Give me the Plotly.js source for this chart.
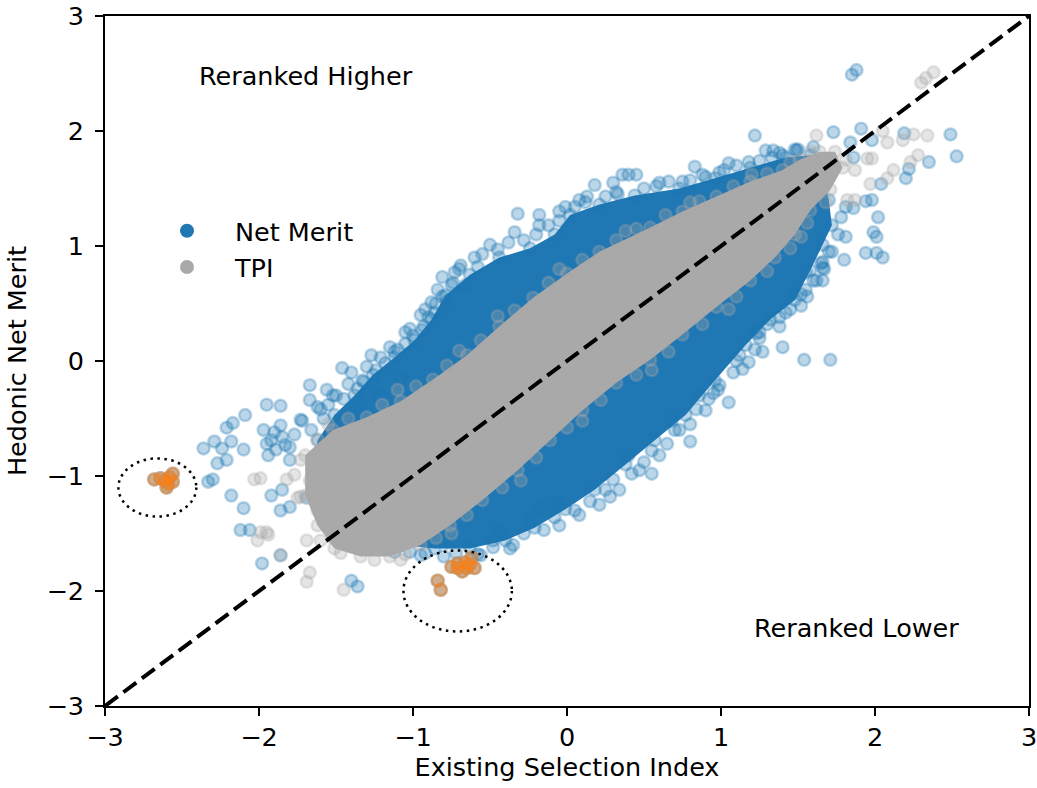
<!DOCTYPE html>
<html><head><meta charset="utf-8">
<script src="https://cdn.plot.ly/plotly-3.0.1.min.js"></script>
<style>html,body{margin:0;padding:0;background:#fff}#chart{width:1037px;height:788px}</style>
</head><body><div id="chart"></div>
<script>
// ---- data ----
// outline of the dense Net Merit cloud
const blueCoreX = [-1.57,-1.64,-1.62,-1.51,-1.38,-1.26,-1.12,-0.99,-0.88,-0.79,-0.63,-0.44,-0.24,-0.08,0.02,0.21,0.44,0.73,0.96,1.19,1.42,1.58,1.66,1.70,1.72,1.66,1.58,1.48,1.32,1.16,0.96,0.77,0.57,0.38,0.18,-0.01,-0.21,-0.40,-0.63,-0.86,-1.08,-1.28,-1.44];
const blueCoreY = [-1.17,-0.90,-0.69,-0.47,-0.30,-0.12,0.03,0.18,0.36,0.57,0.75,0.90,0.98,1.10,1.27,1.36,1.44,1.50,1.59,1.68,1.77,1.79,1.66,1.40,1.18,1.01,0.79,0.53,0.36,0.14,-0.17,-0.47,-0.69,-0.90,-1.12,-1.29,-1.45,-1.56,-1.63,-1.63,-1.60,-1.51,-1.38];
// individual Net Merit points around the dense cloud
const blueX = [1.22,1.73,1.91,1.98,2.19,2.49,2.53,2.35,2.22,2.20,2.04,1.94,1.98,2.02,1.99,2.01,1.94,2.01,2.05,1.80,1.66,1.56,1.47,0.99,1.29,1.18,1.48,1.38,1.86,1.84,1.81,1.86,1.81,1.67,1.85,1.88,
 -0.01,0.36,0.45,0.30,0.32,0.13,0.83,0.75,1.34,1.40,1.49,1.66,1.55,1.38,1.23,1.40,1.27,1.18,1.14,1.54,1.71,
 -0.81,-0.73,-0.75,-0.88,-0.86,-0.81,-0.94,-1.27,-1.46,-1.67,-1.56,-1.67,-1.62,-1.33,-1.21,-1.10,-0.11,-0.06,-0.18,-0.44,-0.48,-0.78,-0.24,
 -1.95,-1.86,-2.09,-2.17,-2.21,-2.29,-2.36,-2.24,-2.10,-2.18,-2.27,-2.21,-2.30,-2.33,-2.18,-2.10,-2.12,-2.06,-1.98,-1.92,-1.85,-1.86,-1.80,-1.69,-1.62,
 -1.97,-1.92,-1.89,-1.94,-1.83,-1.77,-1.80,-1.73,-1.86,-1.90,-1.85,-1.80,-1.95,-1.86,-1.40,-1.36,
 -0.69,-0.50,-0.34,-0.18,-0.05,0.08,0.18,0.40,-0.18,-0.32,0.60,0.90,1.05,-0.60,-0.95,-1.05,-1.40,-1.52,
 0.86,0.99,0.90,0.73,0.60,0.47,0.34,0.21,0.08,-0.05,-0.37,-0.56,-0.95,-1.12,-1.28,1.10,1.25,1.45,1.60,1.70,
 -1.66,-1.58,-1.55,-1.45,-1.42,-1.32,-1.30,-1.18,-1.15,-1.05,-1.02,-0.93,-0.92,-0.85,-0.84,-0.74,-0.70,-0.58,-0.55,-0.45,-0.38,-0.28,-0.20,-0.12,-0.05,0.05,0.12,0.25,0.33,0.50,0.58,0.66,0.80,0.88,1.02,1.10,1.25,1.33,1.50,1.60,
 1.78,1.76,1.72,1.65,1.62,1.55,1.52,1.42,1.38,1.25,1.22,1.12,1.08,0.98,0.92,0.84,0.80,0.70,0.65,0.55,0.50,0.42,0.30,0.25,0.15,0.05,-0.08,-0.15,-0.28,-0.35,-0.48,-0.58,-0.72,-0.80,-0.92,-1.02,-1.18,-1.32,-1.40,-1.50,
 -1.72,-1.60,-1.50,-1.36,-1.24,-1.12,-1.00,-0.90,-0.78,-0.66,-1.48,-1.35,-1.22,-1.08,
 1.05,0.95,0.80,0.68,0.55,0.40,0.28,1.30,1.52,1.66];
const blueY = [1.96,1.99,2.02,1.92,1.98,1.97,1.78,1.73,1.67,1.59,1.54,1.39,1.40,1.25,1.12,1.08,0.94,0.94,0.90,0.88,0.70,0.56,0.59,1.64,1.83,1.73,1.84,1.81,1.77,1.90,1.34,1.33,1.08,0.80,2.49,2.53,
 1.34,1.62,1.62,1.55,1.47,1.43,1.69,1.56,1.83,1.79,1.83,0.81,0.77,0.38,0.24,0.12,0.08,-0.01,-0.07,0.01,0.01,
 0.73,0.77,0.66,0.51,0.42,0.56,0.27,0.05,-0.06,-0.21,-0.25,-0.34,-0.40,-0.17,0.03,0.10,-1.23,-1.23,-1.28,-1.47,-1.56,-1.58,-1.38,
 -0.38,-0.39,-0.47,-0.54,-0.58,-0.70,-0.76,-0.76,-0.77,-0.70,-0.89,-0.86,-1.03,-1.05,-1.17,-1.28,-1.47,-1.47,-1.76,-1.17,-1.12,-1.30,-1.27,-1.19,-1.10,
 -0.60,-0.69,-0.77,-0.82,-0.73,-0.64,-0.86,-0.51,-0.56,-0.62,-0.66,-0.75,-0.72,-1.69,-1.91,-1.96,
 0.83,1.01,1.12,1.18,1.30,1.40,1.53,1.62,1.27,1.28,1.55,1.60,1.72,0.90,0.40,0.25,-0.10,-0.30,
 -0.30,-0.21,-0.43,-0.60,-0.82,-0.95,-1.12,-1.25,-1.34,-1.43,-1.63,-1.69,-1.69,-1.66,-1.60,0.00,0.20,0.45,0.70,0.95,
 -0.60,-0.50,-0.38,-0.33,-0.20,-0.18,-0.05,-0.02,0.12,0.15,0.28,0.30,0.45,0.50,0.62,0.68,0.80,0.82,0.93,0.97,1.03,1.05,1.10,1.18,1.22,1.34,1.38,1.43,1.45,1.50,1.52,1.56,1.57,1.62,1.66,1.70,1.74,1.77,1.84,1.86,
 1.25,1.10,0.95,0.85,0.70,0.62,0.48,0.42,0.30,0.25,0.10,0.05,-0.10,-0.25,-0.33,-0.42,-0.55,-0.60,-0.72,-0.78,-0.88,-0.98,-1.03,-1.12,-1.22,-1.30,-1.36,-1.47,-1.50,-1.60,-1.62,-1.68,-1.67,-1.70,-1.67,-1.66,-1.62,-1.58,-1.48,-1.40,
 -0.52,-0.42,-0.30,-0.24,-0.08,0.08,0.22,0.38,0.52,0.66,-0.62,-0.45,-0.30,-0.15,
 -0.36,-0.28,-0.70,-0.52,-0.98,-0.82,-1.18,0.32,0.58,0.86];
// outline of the dense TPI cloud
const grayCoreX = [-1.70,-1.52,-1.30,-1.08,-0.87,-0.65,-0.44,-0.22,0.00,0.21,0.54,0.75,0.97,1.19,1.40,1.51,1.64,1.74,1.79,1.71,1.58,1.48,1.35,1.19,0.97,0.75,0.54,0.32,0.10,-0.11,-0.32,-0.55,-0.76,-0.95,-1.15,-1.34,-1.51,-1.62,-1.70];
const grayCoreY = [-0.82,-0.60,-0.49,-0.35,-0.16,0.05,0.30,0.55,0.76,0.95,1.16,1.30,1.43,1.56,1.66,1.75,1.82,1.82,1.68,1.49,1.31,1.10,0.90,0.70,0.47,0.23,0.01,-0.19,-0.43,-0.69,-0.95,-1.21,-1.43,-1.60,-1.70,-1.70,-1.63,-1.43,-1.17];
// individual TPI points around the dense cloud
const grayX = [1.62,2.05,2.08,2.18,2.25,2.34,2.28,2.23,2.12,2.08,1.97,1.95,1.98,1.87,1.82,1.87,1.66,1.69,2.30,2.38,2.33,
 1.45,1.55,1.64,1.71,1.81,
 -2.03,-1.99,-1.82,-1.75,-1.73,-1.99,-1.95,-1.94,-2.01,-1.69,-1.67,-1.69,-1.45,-1.52,-1.43,-1.62,-1.86,
 -1.60,-1.47,-1.25,-1.08,-1.41,-1.54,-1.67,-1.73,-1.77,-1.60,-1.49,
 -1.62,-1.42,-1.20,-0.98,-0.78,-0.56,-0.34,-0.12,0.10,0.32,0.45,0.64,0.86,1.08,1.30,1.45,1.58,
 -1.55,-1.10,-0.70,-0.45,-0.05,0.38,0.80,1.20,
 1.68,1.56,1.45,1.30,1.10,0.88,0.66,0.45,0.22,0.00,-0.20,-0.42,-0.65,-0.85,-1.05,1.52,1.05,0.55,0.10,-0.30,-0.75];
const grayY = [1.96,2.00,1.90,1.92,1.97,1.96,1.79,1.73,1.66,1.59,1.54,1.76,1.76,1.66,1.40,1.40,1.49,1.57,2.42,2.51,2.46,
 1.44,1.53,1.62,1.70,1.75,
 -1.03,-1.02,-1.03,-1.19,-1.18,-1.49,-1.49,-1.51,-1.56,-1.56,-1.84,-1.92,-1.99,-1.54,-1.12,-1.30,-1.69,
 -1.56,-1.67,-1.73,-1.73,-1.47,-1.34,-1.04,-0.86,-0.99,-0.77,-0.95,
 -0.68,-0.50,-0.38,-0.22,-0.04,0.18,0.44,0.68,0.88,1.05,1.15,1.27,1.39,1.52,1.63,1.73,1.82,
 -0.55,-0.25,0.09,0.39,0.80,1.13,1.38,1.62,
 1.38,1.20,0.98,0.78,0.56,0.32,0.08,-0.12,-0.34,-0.58,-0.84,-1.10,-1.34,-1.54,-1.68,1.08,0.45,-0.08,-0.52,-1.04,-1.50];
// highlighted animals (shown in both indexes)
const orangeX = [-2.68,-2.64,-2.61,-2.58,-2.56,-2.59,-2.56,-2.60,-0.75,-0.71,-0.66,-0.62,-0.65,-0.60,-0.68,-0.71,-0.63,-0.84,-0.82];
const orangeY = [-1.03,-1.02,-1.04,-1.01,-0.98,-1.07,-1.05,-1.10,-1.79,-1.76,-1.75,-1.71,-1.80,-1.80,-1.83,-1.80,-1.77,-1.91,-1.99];
// identity line and highlight circles
const identity = [-3, 3];
const circleCx = [-2.66, -0.71];
const circleCy = [-1.10, -2.00];
const circleR = [0.253, 0.352];
const seriesNames = ['Net Merit', 'TPI'];
const axisTicks = [-3, -2, -1, 0, 1, 2, 3];

// ---- styles ----
const FONT = 'DejaVu Sans, Liberation Sans, sans-serif';
const FS = 25.5;
const BLUE = '#1f77b4', GRAY = '#a9a9a9';
const rgba = (rgb, a) => 'rgba(' + rgb + ',' + a + ')';
const mk = (rgb, a) => ({size: 12, color: rgba(rgb, a), line: {color: rgba(rgb, a), width: 2.5}});
const BLUE_RGB = '31,119,180', GRAY_RGB = '169,169,169', ORANGE_RGB = '255,127,14';

const traces = [
  {x: blueCoreX, y: blueCoreY, type: 'scatter', mode: 'markers', fill: 'toself', fillcolor: BLUE,
   marker: mk(BLUE_RGB, 0.3), showlegend: false, hoverinfo: 'skip'},
  {x: blueX.concat(orangeX), y: blueY.concat(orangeY), type: 'scatter', mode: 'markers', marker: mk(BLUE_RGB, 0.3), showlegend: false},
  {x: grayCoreX, y: grayCoreY, type: 'scatter', mode: 'markers', fill: 'toself', fillcolor: GRAY,
   marker: mk(GRAY_RGB, 0.3), showlegend: false, hoverinfo: 'skip'},
  {x: grayX.concat(orangeX), y: grayY.concat(orangeY), type: 'scatter', mode: 'markers', marker: mk(GRAY_RGB, 0.3), showlegend: false},
  {x: orangeX, y: orangeY, type: 'scatter', mode: 'markers', marker: mk(ORANGE_RGB, 0.35), showlegend: false},
  {x: identity, y: identity, type: 'scatter', mode: 'lines', line: {color: '#000', width: 4, dash: '16px,7px'}, showlegend: false, hoverinfo: 'skip'},
  {x: [null], y: [null], type: 'scatter', mode: 'markers', name: seriesNames[0], marker: {size: 14, color: BLUE}, showlegend: true},
  {x: [null], y: [null], type: 'scatter', mode: 'markers', name: seriesNames[1], marker: {size: 14, color: GRAY}, showlegend: true}
];

const shapes = circleCx.map((cx, i) => ({
  type: 'circle', xref: 'x', yref: 'y', layer: 'above',
  x0: cx - circleR[i], x1: cx + circleR[i], y0: circleCy[i] - circleR[i], y1: circleCy[i] + circleR[i],
  line: {color: '#000', width: 2.5, dash: '2.5px,4.5px'}
}));

const axisCommon = {
  range: [-3, 3], tickvals: axisTicks, ticktext: axisTicks.map(v => v < 0 ? '\u2212' + Math.abs(v) : String(v)),
  showgrid: false, zeroline: false, showline: true, mirror: true, linecolor: '#000', linewidth: 1.8,
  ticks: 'outside', ticklen: 8, tickwidth: 1.8, tickcolor: '#000', ticklabeloverflow: 'allow',
  tickfont: {family: FONT, size: FS, color: '#000'}
};

const layout = {
  width: 1037, height: 788,
  margin: {l: 105, r: 8, t: 16, b: 82},
  paper_bgcolor: '#fff', plot_bgcolor: '#fff',
  font: {family: FONT, size: FS, color: '#000'},
  xaxis: Object.assign({}, axisCommon, {title: {text: 'Existing Selection Index', font: {family: FONT, size: FS}, standoff: 6}, ticklabelstandoff: 0}),
  yaxis: Object.assign({}, axisCommon, {title: {text: 'Hedonic Net Merit', font: {family: FONT, size: FS}, standoff: 12}, ticklabelstandoff: 6}),
  showlegend: true,
  legend: {x: 0.0368, xanchor: 'left', y: 0.662, yanchor: 'middle', bgcolor: 'rgba(0,0,0,0)', borderwidth: 0,
           itemwidth: 86, font: {family: FONT, size: FS, color: '#000'}},
  shapes: shapes,
  annotations: [
    {x: -2.4, y: 2.48, xref: 'x', yref: 'y', text: 'Reranked Higher', showarrow: false, xanchor: 'left', yanchor: 'middle', font: {family: FONT, size: FS, color: '#000'}},
    {x: 1.2, y: -2.32, xref: 'x', yref: 'y', text: 'Reranked Lower', showarrow: false, xanchor: 'left', yanchor: 'middle', font: {family: FONT, size: FS, color: '#000'}}
  ]
};

Plotly.newPlot('chart', traces, layout, {displayModeBar: false, staticPlot: true});
</script></body></html>
